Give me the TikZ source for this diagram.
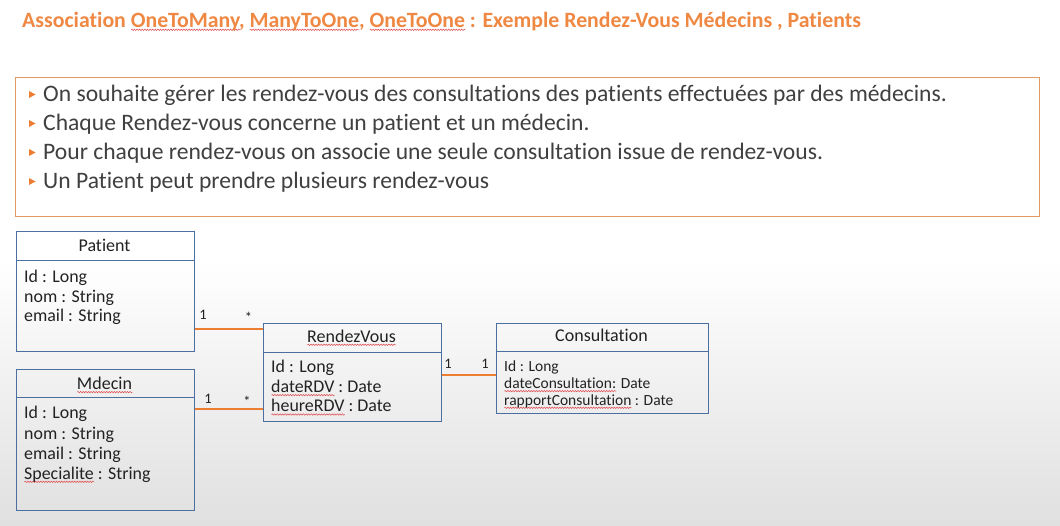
\documentclass[tikz,border=0pt]{standalone}
\usepackage{fontspec}
\setmainfont{Carlito}[Ligatures=NoCommon]
\usetikzlibrary{decorations.pathmorphing}
\definecolor{titleorange}{HTML}{EF8842}
\definecolor{linkorange}{HTML}{ED7D31}
\definecolor{frameorange}{HTML}{E39A62}
\definecolor{umlblue}{HTML}{4A6FA0}
\definecolor{bodytext}{HTML}{404040}
\definecolor{umltext}{HTML}{222222}
\definecolor{squigred}{HTML}{E0484A}
\definecolor{bggray}{HTML}{E0E0E0}
% red wavy underline for unknown words
\newlength\squigw
\newcommand\squig[1]{\settowidth\squigw{#1}\rlap{\tikz[baseline=0pt,x=1pt,y=1pt]\draw[squigred,line width=0.5pt,decorate,decoration={snake,amplitude=0.7pt,segment length=2.6pt}] (0,-2.8) -- (\squigw,-2.8);}#1}
\begin{document}
\begin{tikzpicture}[x=1pt,y=-1pt,
  title/.style={anchor=base west,inner sep=0pt,text=titleorange,font=\fontsize{21.8}{26}\selectfont\bfseries},
  bullettext/.style={anchor=base west,inner sep=0pt,text=bodytext,font=\fontsize{23.6}{28}\selectfont},
  classbox/.style={draw=umlblue,line width=1pt,anchor=north west,inner sep=0pt,fill=none},
  classname/.style={anchor=base,inner sep=0pt,text=umltext,font=\fontsize{18}{22}\selectfont},
  attr/.style={anchor=base west,inner sep=0pt,text=umltext,font=\fontsize{17.9}{22}\selectfont},
  smallattr/.style={anchor=base west,inner sep=0pt,text=umltext,font=\fontsize{15.5}{19}\selectfont},
  mult/.style={anchor=base,inner sep=0pt,text=umltext,font=\fontsize{14.5}{17}\selectfont},
  assoc/.style={draw=linkorange,line width=2pt},
  bulletmark/.style={fill=linkorange}]
% page and background
\useasboundingbox (0,0) rectangle (1060,525);
\fill[white] (0,0) rectangle (1060,260);
\shade[top color=white,bottom color=bggray] (0,259) rectangle (1060,525);

% heading
\node[title] (heading) at (22,27) {Association \squig{OneToMany}, \squig{ManyToOne}, \squig{OneToOne} : Exemple Rendez-Vous Médecins , Patients};

% description frame with bullet list
\node[draw=frameorange,line width=1pt,anchor=north west,minimum width=1024pt,minimum height=139pt,inner sep=0pt] (desc) at (14.5,76.5) {};
\foreach \yb in {101,130,159,188}{
  \fill[bulletmark] (29,\yb-10) -- (35.5,\yb-6.5) -- (29,\yb-3) -- cycle;
}
\node[bullettext] (b1) at (43,101) {On souhaite gérer les rendez-vous des consultations des patients effectuées par des médecins.};
\node[bullettext] (b2) at (43,130) {Chaque Rendez-vous concerne un patient et un médecin.};
\node[bullettext] (b3) at (43,159) {Pour chaque rendez-vous on associe une seule consultation issue de rendez-vous.};
\node[bullettext] (b4) at (43,188) {Un Patient peut prendre plusieurs rendez-vous};

% class Patient
\node[classbox,minimum width=178pt,minimum height=120pt] (patient) at (15.5,231) {};
\draw[umlblue,line width=1pt] ([yshift=-29pt]patient.north west) -- ([yshift=-29pt]patient.north east);
\node[classname] (patientname) at (104.5,251.7) {Patient};
\node[attr] (pat1) at (24,282.3) {Id : Long};
\node[attr] (pat2) at (24,302.3) {nom : String};
\node[attr] (pat3) at (24,321.7) {email : String};

% class Mdecin
\node[classbox,minimum width=178pt,minimum height=141pt] (medecin) at (15.5,368.5) {};
\draw[umlblue,line width=1pt] ([yshift=-29pt]medecin.north west) -- ([yshift=-29pt]medecin.north east);
\node[classname] (medecinname) at (104.5,389.3) {\squig{Mdecin}};
\node[attr] (med1) at (24,418.3) {Id : Long};
\node[attr] (med2) at (24,439) {nom : String};
\node[attr] (med3) at (24,459) {email : String};
\node[attr] (med4) at (24,479) {\squig{Specialite} : String};

% class RendezVous
\node[classbox,minimum width=178pt,minimum height=98pt] (rdv) at (262.5,323) {};
\draw[umlblue,line width=1pt] ([yshift=-29pt]rdv.north west) -- ([yshift=-29pt]rdv.north east);
\node[classname] (rdvname) at (351.5,342) {\squig{RendezVous}};
\node[attr] (rdv1) at (271,372.7) {Id : Long};
\node[attr] (rdv2) at (271,392.3) {\squig{dateRDV} : Date};
\node[attr] (rdv3) at (271,411.7) {\squig{heureRDV} : Date};

% class Consultation
\node[classbox,minimum width=212pt,minimum height=90pt] (consult) at (495.5,322.5) {};
\draw[umlblue,line width=1pt] ([yshift=-29pt]consult.north west) -- ([yshift=-29pt]consult.north east);
\node[classname] (consultname) at (601.5,341.7) {Consultation};
\node[smallattr] (con1) at (504,371) {Id : Long};
\node[smallattr] (con2) at (504,388.3) {\squig{dateConsultation:} Date};
\node[smallattr] (con3) at (504,405) {\squig{rapportConsultation} : Date};

% associations
\coordinate (ypat) at (0,328.7);
\coordinate (ymed) at (0,409);
\coordinate (ycon) at (0,375);
\draw[assoc] (patient.east |- ypat) -- (rdv.west |- ypat);
\draw[assoc] (medecin.east |- ymed) -- (rdv.west |- ymed);
\draw[assoc] (rdv.east |- ycon) -- (consult.west |- ycon);

% multiplicities
\node[mult] (m1) at (203,319) {1};
\node[mult] (m2) at (248.5,322) {*};
\node[mult] (m3) at (208,403.5) {1};
\node[mult] (m4) at (247,406.5) {*};
\node[mult] (m5) at (448,368.5) {1};
\node[mult] (m6) at (485,368.5) {1};
\end{tikzpicture}
\end{document}
